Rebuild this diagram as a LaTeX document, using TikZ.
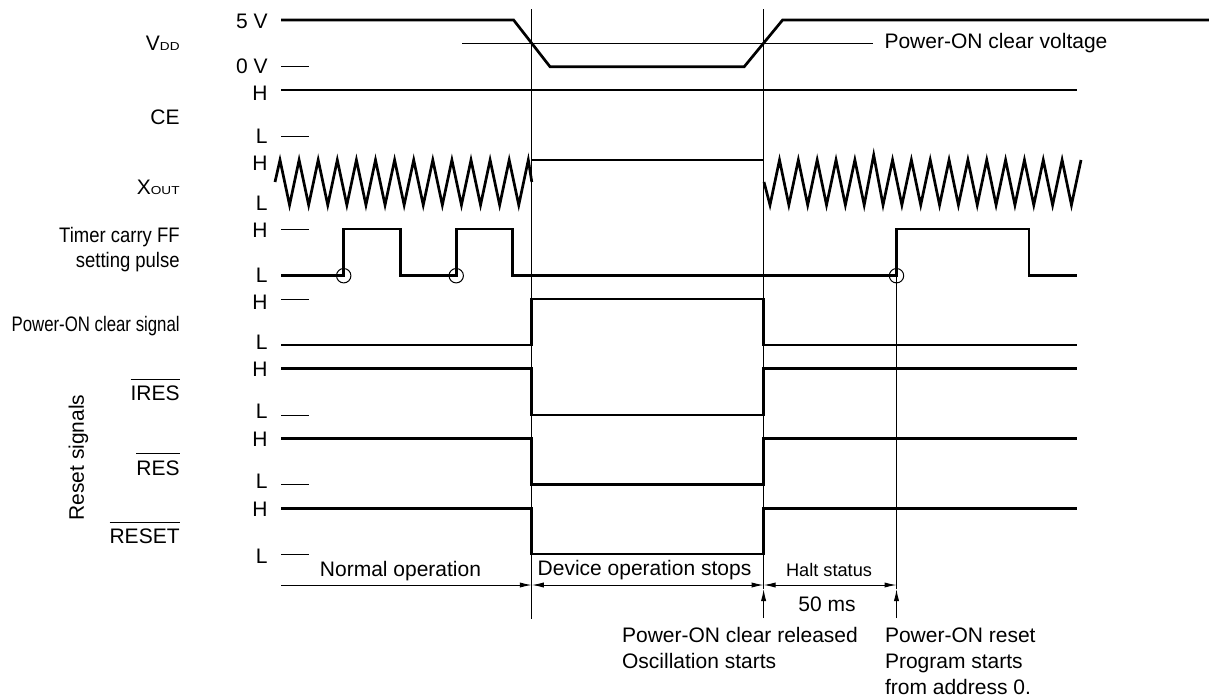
\documentclass[tikz,border=0pt]{standalone}
\usepackage{fontspec}
\setmainfont{Liberation Sans}
\usepackage{graphicx}
\usepackage{tikz}
\usetikzlibrary{arrows.meta}
\newcommand{\ovl}[1]{\leavevmode\setbox0=\hbox{#1}\rlap{\rule[\dimexpr\ht0+3pt\relax]{\wd0}{0.5pt}}\box0}
\newcommand{\sub}[1]{\scalebox{1}[0.85]{\fontsize{6.8}{7}\selectfont #1}}

\begin{document}
\begin{tikzpicture}[x=0.5pt,y=-0.5pt,font=\fontsize{10.5}{13.3}\selectfont,
  sig/.style={line width=1.35pt},
  hair/.style={line width=0.5pt},
  lvl/.style={anchor=east,inner sep=0pt},
  sname/.style={anchor=east,inner sep=0pt,align=right},
  dimr/.style={hair,-{Latex[length=6pt,width=2.6pt]}},
  dimb/.style={hair,{Latex[length=6pt,width=2.6pt]}-{Latex[length=6pt,width=2.6pt]}}]
\useasboundingbox (0,0) rectangle (1209,696);
% signal names
\node[sname] (vdd) at (180,43) {V\sub{DD}};
\node[sname] (ce) at (180,117) {CE};
\node[sname] (xout) at (180,187) {X\sub{OUT}};
\node[sname,xscale=0.88,font=\fontsize{10.5}{12.5}\selectfont] (tmr) at (180,250) {Timer carry FF\\setting pulse};
\node[sname,xscale=0.8] (pon) at (180,326) {Power-ON clear signal};
\node[sname,anchor=base east] (ires) at (180,400.7) {\ovl{IRES}};
\node[sname,anchor=base east] (res) at (180,475) {\ovl{RES}};
\node[sname,anchor=base east] (reset) at (180,543.3) {\ovl{RESET}};
\node[rotate=90,inner sep=0pt] (rsig) at (78.5,457.5) {Reset signals};
% levels
\node[lvl] at (268,21.7) {5 V};
\node[lvl] at (268,66) {0 V};
\node[lvl] at (268,93) {H};
\node[lvl] at (268,136) {L};
\node[lvl] at (268,163) {H};
\node[lvl] at (268,203) {L};
\node[lvl] at (268,230) {H};
\node[lvl] at (268,275.7) {L};
\node[lvl] at (268,302.5) {H};
\node[lvl] at (268,342.3) {L};
\node[lvl] at (268,369.5) {H};
\node[lvl] at (268,411.7) {L};
\node[lvl] at (268,439.3) {H};
\node[lvl] at (268,481) {L};
\node[lvl] at (268,509.3) {H};
\node[lvl] at (268,556.7) {L};
\foreach \y in {66.7,136,229,299,415,484.3,554.3}
  \draw[hair] (281,\y) -- (309,\y);
% time marks
\draw[hair] (531.8,9) -- (531.8,619);
\draw[hair] (763.6,9) -- (763.6,589);
\draw[hair] (896.5,275.7) -- (896.5,589);
\draw[dimr] (763.6,618) -- (763.6,589);
\draw[dimr] (896.5,618) -- (896.5,589);
% VDD
\draw[hair] (462,43) -- (873,43) node[right=5.5pt,inner sep=0pt] {Power-ON clear voltage};
\draw[sig] (281,20) -- (513.6,20) -- (550,66.7) -- (744.2,66.7) -- (782.6,20) -- (1209,20);
% CE
\draw[sig] (281,90) -- (1076.5,90);
% XOUT
\draw[sig] (275,182) \foreach \k in {0,...,12}{ -- ({280+19.1*\k},160) -- ({289.55+19.1*\k},205)} -- (528.3,160) -- (531.8,182);
\draw[sig] (531.8,160) -- (763.6,160);
\draw[sig] (764,182) -- (770,205) \foreach \k in {0,...,15}{ -- ({779.5+18.84*\k},{ifthenelse(\k==5,155,160)}) -- ({770+18.84*(\k+1)},205)} -- (1081,160);
% timer carry FF
\draw[sig] (281,275.7) -- (343.7,275.7) -- (343.7,229) -- (400.7,229) -- (400.7,275.7) -- (456.2,275.7) -- (456.2,229) -- (512.8,229) -- (512.8,275.7) -- (896.5,275.7) -- (896.5,229) -- (1029,229) -- (1029,275.7) -- (1076.5,275.7);
\foreach \x in {343.7,456.2,896.5}
  \draw[hair] (\x,275.7) circle[radius=3.6pt];
% power-on clear
\draw[sig] (281,345) -- (531.8,345) -- (531.8,299) -- (763.6,299) -- (763.6,345) -- (1076.5,345);
% reset signals
\draw[sig] (281,368.3) -- (531.8,368.3) -- (531.8,415) -- (763.6,415) -- (763.6,368.3) -- (1076.5,368.3);
\draw[sig] (281,438.3) -- (531.8,438.3) -- (531.8,484.3) -- (763.6,484.3) -- (763.6,438.3) -- (1076.5,438.3);
\draw[sig] (281,508.3) -- (531.8,508.3) -- (531.8,554) -- (763.6,554) -- (763.6,508.3) -- (1076.5,508.3);
% phases
\draw[dimr] (281,585) -- (531.8,585);
\draw[dimb] (531.8,585) -- (763.6,585);
\draw[dimb] (763.6,585) -- (896.5,585);
\node (nop) at (400.5,571) {Normal operation};
\node (dos) at (644.5,570) {Device operation stops};
\node[font=\fontsize{9.1}{10}\selectfont] (halt) at (829,570) {Halt status};
\node (tms) at (827,604) {50 ms};
\node[anchor=north west,align=left,inner sep=0pt,font=\fontsize{10.5}{13}\selectfont] (rel) at (621.7,627) {Power-ON clear released\\Oscillation starts};
\node[anchor=north west,align=left,inner sep=0pt,font=\fontsize{10.5}{13}\selectfont] (por) at (884.6,627) {Power-ON reset\\Program starts\\from address 0.};
\end{tikzpicture}
\end{document}
